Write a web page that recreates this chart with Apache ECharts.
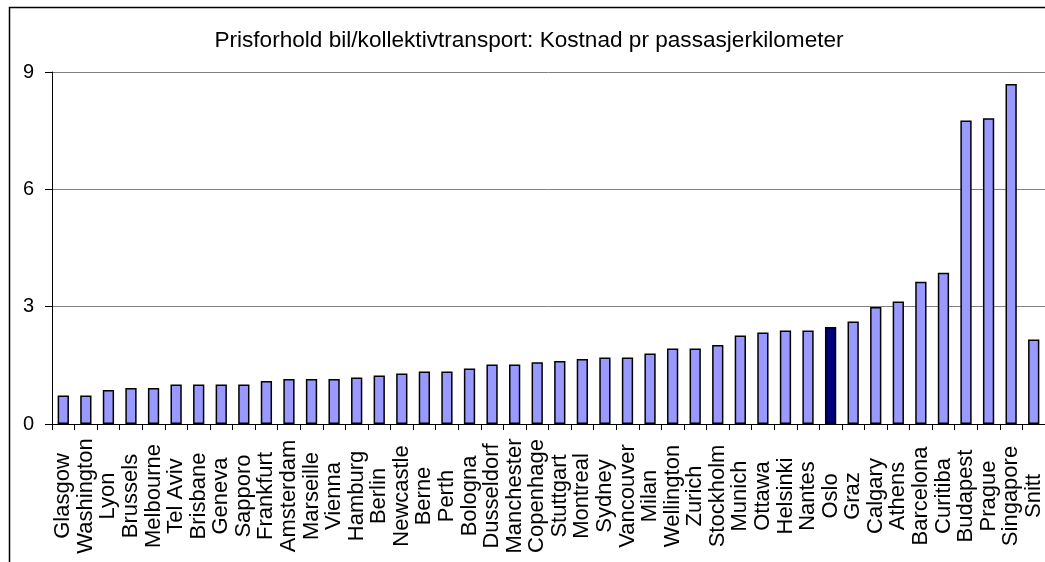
<!DOCTYPE html>
<html>
<head>
<meta charset="utf-8">
<script src="https://cdn.jsdelivr.net/npm/echarts@6/dist/echarts.min.js"></script>
<style>
  html, body { margin: 0; padding: 0; background: #fff; }
  #chart { width: 1045px; height: 562px; }
</style>
</head>
<body>
<div id="chart"></div>
<script>
const cities = [
  'Glasgow', 'Washington', 'Lyon', 'Brussels', 'Melbourne', 'Tel Aviv', 'Brisbane', 'Geneva',
  'Sapporo', 'Frankfurt', 'Amsterdam', 'Marseille', 'Vienna', 'Hamburg', 'Berlin', 'Newcastle',
  'Berne', 'Perth', 'Bologna', 'Dusseldorf', 'Manchester', 'Copenhage', 'Stuttgart', 'Montreal',
  'Sydney', 'Vancouver', 'Milan', 'Wellington', 'Zurich', 'Stockholm', 'Munich', 'Ottawa',
  'Helsinki', 'Nantes', 'Oslo', 'Graz', 'Calgary', 'Athens', 'Barcelona', 'Curitiba',
  'Budapest', 'Prague', 'Singapore', 'Snitt'
]
const costRatio = [
  0.73, 0.73, 0.87, 0.92, 0.92, 1.01, 1.01, 1.01,
  1.01, 1.10, 1.15, 1.15, 1.15, 1.19, 1.24, 1.29,
  1.34, 1.34, 1.42, 1.52, 1.52, 1.58, 1.61, 1.66,
  1.70, 1.70, 1.80, 1.93, 1.93, 2.02, 2.26, 2.34,
  2.39, 2.39, 2.48, 2.62, 2.99, 3.13, 3.64, 3.87,
  7.76, 7.82, 8.69, 2.16
]
const highlight = 'Oslo'
const yTicks = [0, 3, 6, 9]

const chart = echarts.init(document.getElementById('chart'))
chart.setOption({
  backgroundColor: '#fff',
  animation: false,
  title: {
    text: 'Prisforhold bil/kollektivtransport: Kostnad pr passasjerkilometer',
    left: 524,
    top: 24,
    textAlign: 'center',
    textStyle: {
      fontFamily: 'Liberation Sans',
      fontWeight: 'normal',
      fontSize: 22.6,
      color: '#000'
    }
  },
  graphic: [{
    type: 'rect',
    shape: { x: 9.5, y: 7.5, width: 1100, height: 600 },
    style: { fill: 'none', stroke: '#000', lineWidth: 1.5 },
    silent: true
  }],
  grid: {
    left: 52,
    top: 72,
    width: 999,
    bottom: 138
  },
  xAxis: {
    type: 'category',
    data: cities,
    axisLine: { lineStyle: { color: '#000', width: 1 } },
    axisTick: { show: true, alignWithLabel: false, length: 6, lineStyle: { color: '#000' } },
    axisLabel: {
      interval: 0,
      rotate: 90,
      margin: 72,
      align: 'center',
      verticalAlign: 'middle',
      fontFamily: 'Liberation Sans',
      fontSize: 22,
      color: '#000'
    }
  },
  yAxis: {
    type: 'value',
    min: yTicks[0],
    max: yTicks[yTicks.length - 1],
    interval: 3,
    axisLine: { show: true, lineStyle: { color: '#000', width: 1 } },
    axisTick: { show: true, length: 7, lineStyle: { color: '#000' } },
    splitLine: { lineStyle: { color: '#808080', width: 1 } },
    axisLabel: {
      margin: 18,
      fontFamily: 'Liberation Sans',
      fontSize: 20,
      color: '#000'
    }
  },
  series: [{
    type: 'bar',
    barWidth: '50%',
    data: costRatio.map((v, i) => ({
      value: v,
      itemStyle: { color: cities[i] === highlight ? '#000080' : '#9999FF' }
    })),
    itemStyle: { borderColor: '#000', borderWidth: 1.5 }
  }]
})
</script>
</body>
</html>
